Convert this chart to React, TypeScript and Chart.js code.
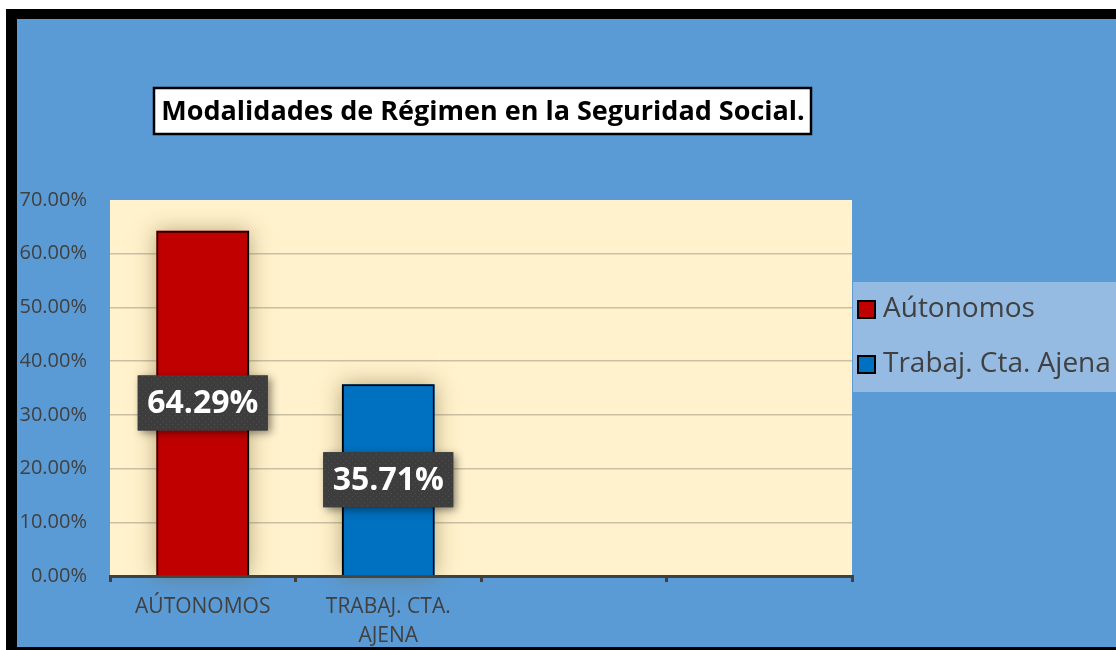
import React, { useEffect, useRef } from 'react';
import { Chart, registerables } from 'chart.js';

Chart.register(...registerables);

// ---- data ----
const categories: (string | string[])[] = ['AÚTONOMOS', ['TRABAJ. CTA.', 'AJENA'], '', ''];
const legendLabels: string[] = ['Aútonomos', 'Trabaj. Cta. Ajena'];
const shareValues: (number | null)[] = [64.29, 35.71, null, null];
const barColors: string[] = ['#C00000', '#0070C0', '#C00000', '#0070C0'];
const yMin = 0;
const yMax = 70;
const yStep = 10;
const chartTitle = 'Modalidades de Régimen en la Seguridad Social.';

const FONT = '"Open Sans", sans-serif';
const TEXT_GRAY = '#404040';

function makePattern(ctx: CanvasRenderingContext2D): CanvasPattern | string {
  const c = document.createElement('canvas');
  c.width = 6;
  c.height = 6;
  const p = c.getContext('2d');
  if (!p) return '#404040';
  p.fillStyle = '#3d3d3d';
  p.fillRect(0, 0, 6, 6);
  p.fillStyle = '#4f4f4f';
  p.fillRect(1, 1, 1, 1);
  p.fillRect(4, 4, 1, 1);
  return ctx.createPattern(c, 'repeat') || '#404040';
}

const decorPlugin = {
  id: 'decor',
  beforeDraw(chart: any) {
    const { ctx, chartArea: a } = chart;
    ctx.save();
    ctx.fillStyle = '#FFF2CC';
    ctx.fillRect(a.left, a.top, a.right - a.left, a.bottom - a.top);
    ctx.restore();
  },
  beforeDatasetDraw(chart: any, args: any) {
    const ctx = chart.ctx;
    args.meta.data.forEach((bar: any, i: number) => {
      const v = shareValues[i];
      if (v == null) return;
      const p = bar.getProps(['x', 'y', 'base', 'width'], true);
      ctx.save();
      ctx.shadowColor = 'rgba(110,90,40,0.5)';
      ctx.shadowBlur = 20;
      ctx.fillStyle = barColors[i];
      ctx.fillRect(p.x - p.width / 2, p.y, p.width, p.base - p.y);
      ctx.restore();
    });
  },
  afterDatasetsDraw(chart: any) {
    const ctx: CanvasRenderingContext2D = chart.ctx;
    const meta = chart.getDatasetMeta(0);
    const pattern = makePattern(ctx);
    meta.data.forEach((bar: any, i: number) => {
      const v = shareValues[i];
      if (v == null) return;
      const p = bar.getProps(['x', 'y', 'base', 'width'], true);
      const label = v.toFixed(2) + '%';
      const bw = 130;
      const bh = 55;
      const cy = (p.y + p.base) / 2;
      ctx.save();
      ctx.shadowColor = 'rgba(0,0,0,0.45)';
      ctx.shadowBlur = 8;
      ctx.shadowOffsetX = 3;
      ctx.shadowOffsetY = 3;
      ctx.fillStyle = '#404040';
      ctx.fillRect(p.x - bw / 2, cy - bh / 2, bw, bh);
      ctx.restore();
      ctx.save();
      ctx.fillStyle = pattern as any;
      ctx.fillRect(p.x - bw / 2, cy - bh / 2, bw, bh);
      ctx.fillStyle = '#FFFFFF';
      ctx.font = `bold 32px ${FONT}`;
      ctx.textAlign = 'center';
      ctx.textBaseline = 'middle';
      ctx.fillText(label, p.x, cy + 1);
      ctx.restore();
    });
  },
  afterDraw(chart: any) {
    const ctx: CanvasRenderingContext2D = chart.ctx;
    // title box
    ctx.save();
    ctx.fillStyle = '#FFFFFF';
    ctx.fillRect(153, 87, 659, 48);
    ctx.strokeStyle = '#000000';
    ctx.lineWidth = 2.5;
    ctx.strokeRect(154, 88, 657, 46);
    ctx.fillStyle = '#000000';
    ctx.font = `bold 27px ${FONT}`;
    ctx.textAlign = 'center';
    ctx.textBaseline = 'middle';
    ctx.fillText(chartTitle, 483, 112);
    ctx.restore();

    // legend
    ctx.save();
    ctx.fillStyle = '#95BBE2';
    ctx.fillRect(853, 282, 263, 110);
    const rows = [309.5, 364.5];
    legendLabels.forEach((lab, i) => {
      const cy = rows[i];
      ctx.fillStyle = barColors[i];
      ctx.fillRect(857, cy - 9.5, 19, 19);
      ctx.strokeStyle = '#000000';
      ctx.lineWidth = 2;
      ctx.strokeRect(858, cy - 8.5, 17, 17);
      ctx.fillStyle = TEXT_GRAY;
      ctx.font = `28px ${FONT}`;
      ctx.textAlign = 'left';
      ctx.textBaseline = 'middle';
      ctx.fillText(lab, 883, cy);
    });
    ctx.restore();
  },
};

export default function App() {
  const canvasRef = useRef<HTMLCanvasElement | null>(null);

  useEffect(() => {
    if (!canvasRef.current) return;
    const chart = new Chart(canvasRef.current, {
      type: 'bar',
      data: {
        labels: categories as any,
        datasets: [
          {
            label: 'Modalidades',
            data: shareValues as any,
            backgroundColor: barColors,
            borderColor: '#000000',
            borderWidth: 2,
            borderSkipped: 'start',
            categoryPercentage: 1,
            barPercentage: 0.5,
          },
        ],
      },
      options: {
        responsive: false,
        animation: false,
        devicePixelRatio: 1,
        layout: { padding: { left: 0, top: 200, right: 264, bottom: 0 } },
        plugins: {
          legend: { display: false },
          title: { display: false },
          tooltip: { enabled: false },
        },
        scales: {
          x: {
            afterFit(scale: any) {
              scale.height = 74;
            },
            border: { display: true, color: TEXT_GRAY, width: 3 },
            grid: {
              display: true,
              offset: true,
              drawOnChartArea: false,
              drawTicks: true,
              tickLength: 6,
              color: TEXT_GRAY,
              lineWidth: 3,
            },
            ticks: {
              color: TEXT_GRAY,
              padding: 11,
              maxRotation: 0,
              autoSkip: false,
              font: { family: FONT, size: 21, lineHeight: 1.35 },
            },
          },
          y: {
            min: yMin,
            max: yMax,
            afterFit(scale: any) {
              scale.width = 110;
            },
            border: { display: false },
            grid: {
              drawTicks: false,
              lineWidth: 1.5,
              color: (c: any) =>
                c.tick && (c.tick.value === yMin || c.tick.value === yMax) ? 'rgba(0,0,0,0)' : '#C9C0A5',
            },
            ticks: {
              stepSize: yStep,
              padding: 23,
              color: TEXT_GRAY,
              font: { family: FONT, size: 20 },
              callback: (v: any) => Number(v).toFixed(2) + '%',
            },
          },
        },
      },
      plugins: [decorPlugin],
    });
    return () => chart.destroy();
  }, []);

  return (
    <div style={{ position: 'fixed', left: 0, top: 0, width: 1116, height: 650, background: '#FFFFFF', overflow: 'hidden' }}>
      <div style={{ position: 'absolute', left: 6, top: 9, right: 0, bottom: 0, background: '#5B9BD5' }} />
      <canvas
        ref={canvasRef}
        width={1116}
        height={650}
        style={{ position: 'absolute', left: 0, top: 0, width: 1116, height: 650 }}
      />
      <div
        style={{
          position: 'absolute',
          left: 6,
          top: 9,
          right: 0,
          bottom: 0,
          boxSizing: 'border-box',
          borderLeft: '11px solid #000',
          borderTop: '10px solid #000',
          borderBottom: '3px solid #000',
          pointerEvents: 'none',
        }}
      />
    </div>
  );
}
